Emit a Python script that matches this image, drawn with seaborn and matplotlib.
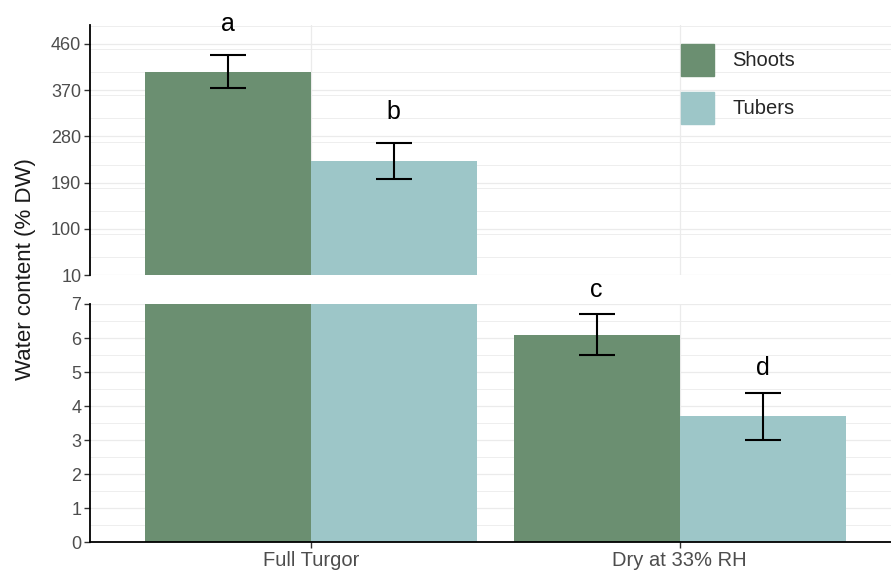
import matplotlib
matplotlib.use("Agg")
import matplotlib.pyplot as plt
from matplotlib.ticker import MultipleLocator, FixedLocator
import seaborn as sns
import pandas as pd

# Water content of shoots and tubers under two conditions
conditions = ["Full Turgor", "Dry at 33% RH"]
tissues = ["Shoots", "Tubers"]
shoots_mean = [406, 6.1]
tubers_mean = [232, 3.7]
shoots_se = [32, 0.6]
tubers_se = [35, 0.7]
shoots_letters = ["a", "c"]
tubers_letters = ["b", "d"]

top_ticks = [10, 100, 190, 280, 370, 460]
bottom_ticks = [0, 1, 2, 3, 4, 5, 6, 7]

palette = {"Shoots": "#6b8f71", "Tubers": "#9dc6c8"}

df = pd.DataFrame({
    "condition": conditions * 2,
    "tissue": ["Shoots"] * 2 + ["Tubers"] * 2,
    "value": shoots_mean + tubers_mean,
})
errors = {"Shoots": shoots_se, "Tubers": tubers_se}
means = {"Shoots": shoots_mean, "Tubers": tubers_mean}
letters = {"Shoots": shoots_letters, "Tubers": tubers_letters}

sns.set_theme(style="white")
plt.rcParams["font.family"] = ["Liberation Sans", "DejaVu Sans"]

W, H = 891, 572
fig = plt.figure(figsize=(W / 100, H / 100), dpi=100)
left = 89.6 / W
width = (901 - 89.6) / W
ax_top = fig.add_axes([left, (H - 275) / H, width, 250 / H])
ax_bot = fig.add_axes([left, (H - 542.3) / H, width, 238.3 / H])
ax_bot.set_zorder(2)

grid_col = "#ebebeb"
text_col = "#4d4d4d"

for ax, ylim, ticks, minor_step, off in [
    (ax_top, (10, 497), top_ticks, 45, 14),
    (ax_bot, (0, 7), bottom_ticks, 0.5, 9),
]:
    ax.patch.set_alpha(0)
    sns.barplot(data=df, x="condition", y="value", hue="tissue",
                order=conditions, hue_order=tissues, palette=palette,
                width=0.9, errorbar=None, saturation=1, linewidth=0,
                legend=False, ax=ax, zorder=2)
    for container, tissue in zip(ax.containers, tissues):
        for bar, m, e, lab in zip(container, means[tissue], errors[tissue],
                                  letters[tissue]):
            # error bar and letter go in the panel that holds the bar top
            if not ylim[0] < m < ylim[1]:
                continue
            x = bar.get_x() + bar.get_width() / 2
            ax.errorbar([x], [m], yerr=[e], fmt="none", ecolor="black",
                        elinewidth=1.5, capsize=13, capthick=1.5, zorder=3)
            ax.annotate(lab, (x, m + e), xytext=(0, off),
                        textcoords="offset points", ha="center",
                        va="bottom", fontsize=18, color="black",
                        annotation_clip=False, zorder=5)
    ax.set_ylim(*ylim)
    ax.set_xlim(-0.6, 1.6)
    ax.yaxis.set_major_locator(FixedLocator(ticks))
    ax.yaxis.set_minor_locator(MultipleLocator(minor_step))
    ax.grid(True, which="major", axis="both", color=grid_col, lw=0.9)
    ax.grid(True, which="minor", axis="y", color=grid_col, lw=0.6)
    ax.set_axisbelow(True)
    for s in ["top", "right", "bottom"]:
        ax.spines[s].set_visible(False)
    ax.spines["left"].set_color("black")
    ax.spines["left"].set_linewidth(1.3)
    ax.tick_params(axis="y", which="major", left=True, length=4, width=1,
                   color="#333333", labelsize=13, labelcolor=text_col, pad=2)
    ax.tick_params(axis="y", which="minor", left=False)
    ax.set_xlabel("")
    ax.set_ylabel("")

ax_top.tick_params(axis="x", bottom=False, labelbottom=False)
ax_bot.spines["bottom"].set_visible(True)
ax_bot.spines["bottom"].set_color("black")
ax_bot.spines["bottom"].set_linewidth(1.3)
ax_bot.tick_params(axis="x", bottom=True, length=4, width=1, color="#333333",
                   labelsize=14.5, labelcolor=text_col, pad=2.5)

# Legend with square colour keys
handles = [plt.Rectangle((0, 0), 1, 1, color=palette[t]) for t in tissues]
ax_top.legend(handles, tissues, loc="upper left",
              bbox_to_anchor=((681 - 89.6) / 811.4, (275 - 44) / 250),
              frameon=False, fontsize=14.5, handlelength=1.65,
              handleheight=2.05, labelspacing=0.8, handletextpad=0.9,
              borderpad=0, borderaxespad=0)

fig.text(26 / W, 1 - 269 / H, "Water content (% DW)", rotation=90,
         ha="center", va="center", fontsize=16, color="#1a1a1a")

fig.savefig("out.png", dpi=100)
